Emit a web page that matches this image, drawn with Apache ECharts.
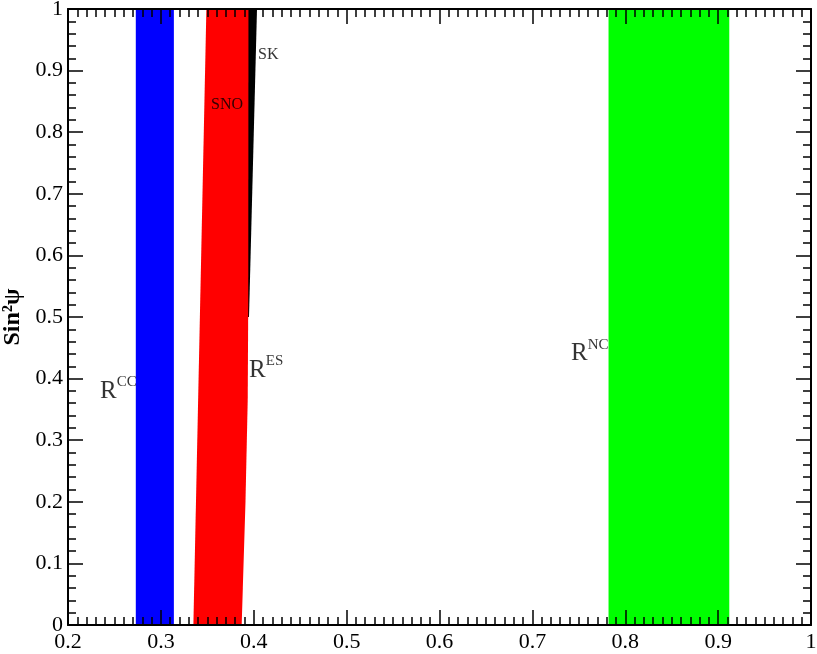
<!DOCTYPE html>
<html>
<head>
<meta charset="utf-8">
<title>R bands vs sin^2 psi</title>
<script src="https://cdn.jsdelivr.net/npm/echarts@6/dist/echarts.min.js"></script>
<style>
  html, body { margin: 0; padding: 0; background: #fff; }
  #main { width: 817px; height: 654px; }
</style>
</head>
<body>
<div id="main"></div>
<script>
// axis ticks
const xTicks = [0.2, 0.3, 0.4, 0.5, 0.6, 0.7, 0.8, 0.9, 1];
const yTicks = [0, 0.1, 0.2, 0.3, 0.4, 0.5, 0.6, 0.7, 0.8, 0.9, 1];

// bands, as [x, sin^2 psi] vertices
const ccBand = [[0.273, 0], [0.314, 0], [0.314, 1], [0.273, 1]];
const ncBand = [[0.782, 0], [0.912, 0], [0.912, 1], [0.782, 1]];
const skBand = [[0.392, 0.5], [0.3949, 0.5], [0.4035, 1], [0.392, 1]];
const esBand = [[0.335, 0], [0.387, 0], [0.3911, 0.2], [0.3935, 0.365], [0.3941, 0.53], [0.3943, 1], [0.349, 1]];

// text labels and where they sit (data units)
const labelNames = ['R^CC', 'R^ES', 'R^NC', 'SK', 'SNO'];
const labelAnchors = [[0.2345, 0.359], [0.395, 0.393], [0.7416, 0.42], [0.4046, 0.912], [0.354, 0.832]];

const serif = 'Liberation Serif';

function polySeries(name, pts, color) {
    return {
        type: 'custom',
        name: name,
        xAxisIndex: 0,
        yAxisIndex: 0,
        data: [pts[0]],
        renderItem: function (params, api) {
            return {
                type: 'polygon',
                shape: { points: pts.map(function (p) { return api.coord(p); }) },
                style: { fill: color, stroke: null }
            };
        },
        silent: true
    };
}

function labelText(s) {
    const parts = s.split('^');
    if (parts.length === 2) return '{r|' + parts[0] + '}{s|' + parts[1] + '}';
    return '{t|' + s + '}';
}

const chart = echarts.init(document.getElementById('main'));

const axisCommon = {
    min: 0, max: 1, interval: 0.1,
    axisLine: { onZero: false, lineStyle: { color: '#000', width: 2 } },
    axisTick: { inside: true, length: 15, lineStyle: { color: '#000', width: 1.5 } },
    minorTick: { show: true, length: 8, lineStyle: { color: '#000', width: 1.5 } },
    splitLine: { show: false },
    z: 10
};

chart.setOption({
    animation: false,
    backgroundColor: '#fff',
    grid: { left: 68, right: 6, top: 9, bottom: 29, outerBoundsMode: 'none' },
    xAxis: [
        Object.assign({}, axisCommon, {
            type: 'value', position: 'bottom', min: xTicks[0], max: xTicks[xTicks.length - 1],
            minorTick: Object.assign({}, axisCommon.minorTick, { splitNumber: 10 }),
            axisLabel: { color: '#000', fontFamily: serif, fontSize: 22, margin: 6, showMinLabel: true, showMaxLabel: true }
        }),
        Object.assign({}, axisCommon, {
            type: 'value', position: 'top', min: xTicks[0], max: xTicks[xTicks.length - 1],
            minorTick: Object.assign({}, axisCommon.minorTick, { splitNumber: 10 }),
            axisLabel: { show: false }
        })
    ],
    yAxis: [
        Object.assign({}, axisCommon, {
            type: 'value', position: 'left', min: yTicks[0], max: yTicks[yTicks.length - 1],
            minorTick: Object.assign({}, axisCommon.minorTick, { splitNumber: 5 }),
            axisLabel: { color: '#000', fontFamily: serif, fontSize: 22, margin: 5, showMinLabel: true, showMaxLabel: true },
            name: 'Sin²ψ',
            nameLocation: 'middle',
            nameRotate: 90,
            nameGap: 32,
            nameTextStyle: { fontFamily: serif, fontSize: 24, fontWeight: 'bold', color: '#000' }
        }),
        Object.assign({}, axisCommon, {
            type: 'value', position: 'right', min: yTicks[0], max: yTicks[yTicks.length - 1],
            minorTick: Object.assign({}, axisCommon.minorTick, { splitNumber: 5 }),
            axisLabel: { show: false }
        })
    ],
    series: [
        polySeries('CC', ccBand, '#0000ff'),
        polySeries('NC', ncBand, '#00ff00'),
        polySeries('SK', skBand, '#000000'),
        polySeries('ES', esBand, '#ff0000'),
        {
            type: 'scatter',
            xAxisIndex: 0,
            yAxisIndex: 0,
            symbolSize: 0,
            silent: true,
            data: labelAnchors.map(function (p, i) { return { value: p, name: labelNames[i] }; }),
            label: {
                show: true,
                position: [0, 0],
                align: 'left',
                verticalAlign: 'bottom',
                formatter: function (p) { return labelText(p.name); },
                rich: {
                    r: { fontFamily: serif, fontSize: 25, color: '#000', verticalAlign: 'bottom' },
                    s: { fontFamily: serif, fontSize: 15, color: '#000', verticalAlign: 'bottom', padding: [0, 0, 14, 0] },
                    t: { fontFamily: serif, fontSize: 16, color: '#000', verticalAlign: 'bottom' }
                }
            },
            z: 20
        }
    ]
});
</script>
</body>
</html>
